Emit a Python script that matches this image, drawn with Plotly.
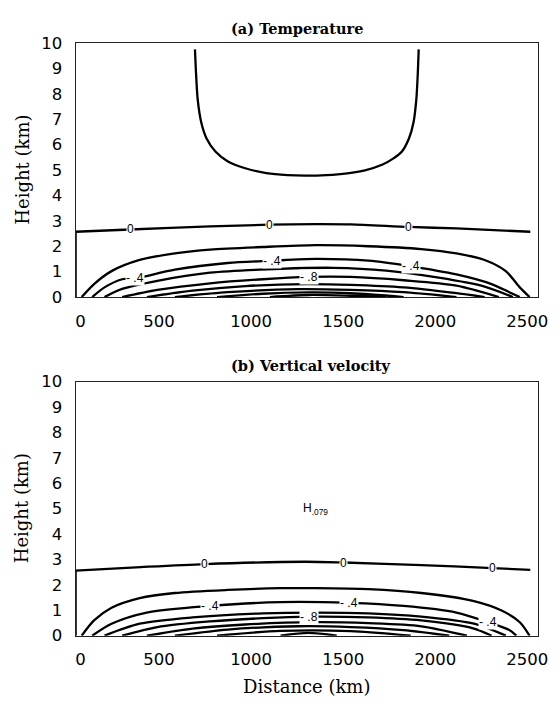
import plotly.graph_objects as go

# ---------------- data (km) ----------------
# x-axis tick labels
x_tick_vals = [74, 500, 1000, 1500, 2000, 2500]
x_tick_text = ["0", "500", "1000", "1500", "2000", "2500"]
x_tick_marks = [500, 1000, 1500, 2000]
y_tick_vals = list(range(0, 11))
y_tick_marks = list(range(1, 10))

# Panel (a) Temperature
temp_upper_x = [695, 701, 710, 729, 758, 806, 872, 968, 1083, 1198, 1293, 1408, 1522, 1618, 1714, 1771, 1819, 1857, 1882, 1897, 1905, 1910]
temp_upper_y = [9.75, 8.79, 7.77, 6.88, 6.24, 5.73, 5.35, 5.07, 4.88, 4.80, 4.78, 4.80, 4.87, 4.99, 5.22, 5.45, 5.73, 6.24, 6.88, 7.77, 8.79, 9.75]
temp_zero_x = [47, 343, 777, 1102, 1350, 1541, 1857, 2115, 2516]
temp_zero_y = [2.57, 2.66, 2.78, 2.85, 2.87, 2.86, 2.76, 2.70, 2.57]
temp_neg_x = [
    [80, 147, 242, 395, 586, 777, 1064, 1350, 1637, 1924, 2115, 2268, 2383, 2459, 2512],
    [137, 204, 300, 386, 586, 873, 1112, 1350, 1637, 1867, 2115, 2306, 2402, 2459],
    [204, 300, 491, 777, 1160, 1446, 1733, 2019, 2268, 2421],
    [300, 491, 777, 1064, 1308, 1541, 1828, 2115, 2345],
    [434, 682, 968, 1293, 1541, 1828, 2115, 2268],
    [586, 873, 1255, 1541, 1828, 2115],
    [815, 1064, 1313, 1541, 1828],
    [1102, 1313, 1541, 1733],
]
temp_neg_y = [
    [0, 0.51, 1.02, 1.46, 1.72, 1.87, 1.97, 2.04, 2.00, 1.89, 1.72, 1.46, 1.02, 0.38, 0],
    [0, 0.38, 0.70, 0.76, 1.08, 1.34, 1.43, 1.50, 1.43, 1.21, 0.89, 0.51, 0.19, 0],
    [0, 0.32, 0.64, 0.96, 1.11, 1.15, 1.04, 0.76, 0.41, 0],
    [0, 0.28, 0.54, 0.70, 0.79, 0.79, 0.66, 0.45, 0],
    [0, 0.25, 0.43, 0.51, 0.48, 0.38, 0.15, 0],
    [0, 0.19, 0.31, 0.28, 0.19, 0],
    [0, 0.13, 0.18, 0.15, 0],
    [0, 0.08, 0.05, 0],
]
temp_label_text = ["0", "0", "0", "- .4", "- .4", "- .4", "- .8"]
temp_label_x = [343, 1102, 1857, 370, 1112, 1867, 1312]
temp_label_y = [2.66, 2.85, 2.76, 0.74, 1.43, 1.21, 0.79]

# Panel (b) Vertical velocity
vel_zero_x = [47, 400, 749, 1293, 1503, 1924, 2311, 2516]
vel_zero_y = [2.56, 2.70, 2.82, 2.91, 2.88, 2.78, 2.66, 2.59]
vel_neg_x = [
    [80, 147, 242, 395, 586, 873, 1160, 1350, 1637, 1924, 2210, 2363, 2459, 2512],
    [137, 242, 433, 777, 1160, 1532, 1828, 2115, 2287, 2402, 2440],
    [204, 395, 682, 1064, 1350, 1637, 1924, 2210, 2383],
    [300, 491, 777, 1064, 1313, 1637, 1924, 2210, 2306],
    [434, 682, 968, 1350, 1637, 1924, 2172],
    [586, 873, 1255, 1541, 1828, 2076],
    [815, 1160, 1541, 1867],
    [1160, 1313, 1465],
]
vel_neg_y = [
    [0, 0.60, 1.10, 1.48, 1.68, 1.80, 1.87, 1.87, 1.83, 1.68, 1.36, 0.98, 0.53, 0],
    [0, 0.47, 0.91, 1.17, 1.32, 1.29, 1.17, 0.91, 0.53, 0.22, 0],
    [0, 0.47, 0.72, 0.88, 0.91, 0.88, 0.75, 0.47, 0],
    [0, 0.34, 0.56, 0.69, 0.75, 0.72, 0.60, 0.28, 0],
    [0, 0.28, 0.44, 0.53, 0.49, 0.37, 0],
    [0, 0.24, 0.37, 0.34, 0.22, 0],
    [0, 0.19, 0.18, 0],
    [0, 0.11, 0],
]
vel_label_text = ["0", "0", "0", "- .4", "- .4", "- .4", "- .8"]
vel_label_x = [749, 1503, 2311, 777, 1532, 2287, 1313]
vel_label_y = [2.82, 2.88, 2.66, 1.17, 1.29, 0.53, 0.75]
vel_max_x, vel_max_y, vel_max_text = 1350, 4.97, ".079"

X_RANGE = [47, 2559]
Y_RANGE = [0, 10]

# ---------------- layout geometry (pixels) ----------------
W, H = 560, 706
FRAME_L, FRAME_R = 77, 548
A_TOP, A_BOT = 35, 296
B_TOP, B_BOT = 383, 644
TITLE_LEFT = 233


def px(x):
    return x / W


def py(y):
    return 1 - y / H


LINE = dict(color="black", width=2.3)
fig = go.Figure()


def add_panel(xa, ya, zero_x, zero_y, neg_x, neg_y, extra=None):
    # zero contour runs along the left boundary then across
    fig.add_trace(go.Scatter(x=[zero_x[0], zero_x[0]], y=[0, zero_y[0]], mode="lines",
                             line=LINE, xaxis=xa, yaxis=ya, hoverinfo="skip", cliponaxis=False))
    fig.add_trace(go.Scatter(x=zero_x, y=zero_y, mode="lines", line=dict(LINE, shape="spline", smoothing=0.8),
                             xaxis=xa, yaxis=ya, hoverinfo="skip"))
    for xs, ys in zip(neg_x, neg_y):
        fig.add_trace(go.Scatter(x=xs, y=ys, mode="lines", line=dict(LINE, shape="spline", smoothing=0.8),
                                 xaxis=xa, yaxis=ya, hoverinfo="skip"))
    if extra is not None:
        fig.add_trace(go.Scatter(x=extra[0], y=extra[1], mode="lines", line=dict(LINE, shape="spline", smoothing=0.8),
                                 xaxis=xa, yaxis=ya, hoverinfo="skip"))


add_panel("x", "y", temp_zero_x, temp_zero_y, temp_neg_x, temp_neg_y, (temp_upper_x, temp_upper_y))
add_panel("x2", "y2", vel_zero_x, vel_zero_y, vel_neg_x, vel_neg_y)

TICKFONT = dict(family="DejaVu Sans", size=16.5, color="black")
xdom = [px(FRAME_L), px(FRAME_R)]
dom_a = [py(A_BOT), py(A_TOP)]
dom_b = [py(B_BOT), py(B_TOP)]

main_x = dict(range=X_RANGE, tickmode="array", tickvals=x_tick_vals, ticktext=x_tick_text,
              ticks="outside", ticklen=9, tickcolor="rgba(0,0,0,0)", tickfont=TICKFONT,
              showline=True, mirror=True, linecolor="#222", linewidth=1, showgrid=False, zeroline=False,
              domain=xdom, fixedrange=True)
main_y = dict(range=Y_RANGE, tickmode="array", tickvals=y_tick_vals,
              ticks="outside", ticklen=9, tickcolor="rgba(0,0,0,0)", tickfont=TICKFONT,
              showline=True, mirror=True, linecolor="#222", linewidth=1, showgrid=False, zeroline=False,
              fixedrange=True)
mark_x = dict(range=X_RANGE, tickmode="array", tickvals=x_tick_marks, ticks="outside", ticklen=8,
              tickcolor="#222", tickwidth=1, showticklabels=False, showline=False, showgrid=False,
              zeroline=False, fixedrange=True)
mark_y = dict(range=Y_RANGE, tickmode="array", tickvals=y_tick_marks, ticks="outside", ticklen=9,
              tickcolor="#222", tickwidth=1, showticklabels=False, showline=False, showgrid=False,
              zeroline=False, fixedrange=True)

fig.update_layout(
    width=W, height=H, margin=dict(l=0, r=0, t=0, b=0),
    paper_bgcolor="white", plot_bgcolor="white", showlegend=False,
    xaxis=dict(main_x, anchor="y"),
    yaxis=dict(main_y, anchor="x", domain=dom_a),
    xaxis2=dict(main_x, anchor="y2"),
    yaxis2=dict(main_y, anchor="x2", domain=dom_b),
    xaxis3=dict(mark_x, overlaying="x", anchor="y"),
    yaxis3=dict(mark_y, overlaying="y", anchor="x"),
    xaxis4=dict(mark_x, overlaying="x2", anchor="y2"),
    yaxis4=dict(mark_y, overlaying="y2", anchor="x2"),
)

ann = []
LABFONT = dict(family="Liberation Sans", size=12, color="black")
for t, x, y in zip(temp_label_text, temp_label_x, temp_label_y):
    ann.append(dict(x=x, y=y, xref="x", yref="y", text=t, showarrow=False, font=LABFONT,
                    bgcolor="white", borderpad=0, xanchor="center", yanchor="middle"))
for t, x, y in zip(vel_label_text, vel_label_x, vel_label_y):
    ann.append(dict(x=x, y=y, xref="x2", yref="y2", text=t, showarrow=False, font=LABFONT,
                    bgcolor="white", borderpad=0, xanchor="center", yanchor="middle"))
ann.append(dict(x=vel_max_x, y=vel_max_y, xref="x2", yref="y2",
                text="H<sub>" + vel_max_text + "</sub>", showarrow=False,
                xanchor="center", yanchor="middle",
                font=dict(family="Liberation Sans", size=12, color="black")))

TITLEFONT = dict(family="DejaVu Serif", size=14.5, color="black")
AXFONT = dict(family="DejaVu Serif", size=18, color="black")


def paper_text(x, y, text, font, angle=0, xanchor="center"):
    ann.append(dict(x=px(x), y=py(y), xref="paper", yref="paper", text=text, textangle=angle,
                    showarrow=False, font=font, xanchor=xanchor, yanchor="middle"))


paper_text(TITLE_LEFT, 20, "<b>(a) Temperature</b>", TITLEFONT, xanchor="left")
paper_text(TITLE_LEFT, 366.5, "<b>(b) Vertical velocity</b>", TITLEFONT, xanchor="left")
paper_text(22, (A_TOP + A_BOT) / 2, "Height (km)", AXFONT, -90)
paper_text(22, (B_TOP + B_BOT) / 2, "Height (km)", AXFONT, -90)
paper_text((FRAME_L + FRAME_R) / 2, 696, "Distance (km)", AXFONT)
fig.update_layout(annotations=ann)

fig.write_html("out.html", config={"displayModeBar": False},
               post_script="document.body.style.margin='0';")
